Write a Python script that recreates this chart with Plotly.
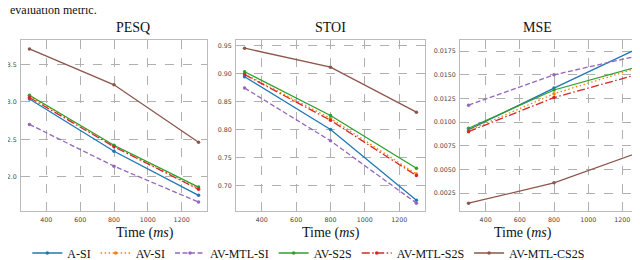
import plotly.graph_objects as go

times = [300, 800, 1300]
series_names = ["A-SI", "AV-SI", "AV-MTL-SI", "AV-S2S", "AV-MTL-S2S", "AV-MTL-CS2S"]
colors = ["#1f77b4", "#ff7f0e", "#9467bd", "#2ca02c", "#d62728", "#8c564b"]
dashes = ["solid", "1.5px,2.5px", "5px,2.5px", "solid", "8px,2.5px,1.5px,2.5px", "solid"]

pesq = {
    "A-SI": [3.04, 2.34, 1.75],
    "AV-SI": [3.08, 2.41, 1.84],
    "AV-MTL-SI": [2.70, 2.14, 1.66],
    "AV-S2S": [3.09, 2.42, 1.86],
    "AV-MTL-S2S": [3.06, 2.40, 1.83],
    "AV-MTL-CS2S": [3.71, 3.23, 2.46],
}
stoi = {
    "A-SI": [0.894, 0.800, 0.674],
    "AV-SI": [0.899, 0.820, 0.721],
    "AV-MTL-SI": [0.874, 0.780, 0.669],
    "AV-S2S": [0.903, 0.825, 0.731],
    "AV-MTL-S2S": [0.898, 0.8165, 0.718],
    "AV-MTL-CS2S": [0.945, 0.911, 0.831],
}
mse = {
    "A-SI": [0.0092, 0.0136, 0.01786],
    "AV-SI": [0.0091, 0.0130, 0.0158],
    "AV-MTL-SI": [0.0118, 0.0150, 0.01705],
    "AV-S2S": [0.00936, 0.0134, 0.0159],
    "AV-MTL-S2S": [0.0090, 0.0126, 0.0151],
    "AV-MTL-CS2S": [0.00144, 0.0036, 0.00683],
}

panels = [("PESQ", pesq), ("STOI", stoi), ("MSE", mse)]
W, H = 640, 260
x_px = [(13, 199), (228, 417), (452, 640)]
y_top, y_bot = 32, 203

fig = go.Figure()
for i, (title, data) in enumerate(panels):
    ax = "" if i == 0 else str(i + 1)
    for j, name in enumerate(series_names):
        fig.add_trace(go.Scatter(
            x=times, y=data[name], mode="lines+markers", name=name,
            line=dict(color=colors[j], dash=dashes[j], width=1.3),
            marker=dict(size=3.5, color=colors[j]),
            xaxis="x" + ax, yaxis="y" + ax,
            showlegend=(i == 0), legendgroup=name,
        ))

serif = "Liberation Serif"
sans = "DejaVu Sans"
axis_common = dict(showgrid=True, gridcolor="#b0b0b0", griddash="dash", gridwidth=1,
                   showline=True, linecolor="#bbbbbb", linewidth=1, mirror=True,
                   zeroline=False, ticks="outside", ticklen=2, tickcolor="rgba(0,0,0,0)",
                   tickfont=dict(family=sans, size=6.3, color="#444"),
                   automargin=False)

layout = dict(width=W, height=H, margin=dict(l=0, r=0, t=0, b=0, autoexpand=False),
              plot_bgcolor="white", paper_bgcolor="white",
              showlegend=True,
              legend=dict(orientation="h", x=0.47, xanchor="center",
                          yref="container", y=1 - 245 / H, yanchor="middle",
                          font=dict(family=serif, size=12, color="#111"),
                          itemwidth=30, tracegroupgap=0, bgcolor="rgba(0,0,0,0)"))
yranges = [[1.54, 3.83], [0.655, 0.9595], [0.00062, 0.01868]]
ydtick = [0.5, 0.05, 0.0025]
yfmt = [".1f", ".2f", ".4f"]
annotations = []
for i in range(3):
    ax = "" if i == 0 else str(i + 1)
    x0, x1 = x_px[i]
    layout["xaxis" + ax] = dict(axis_common, domain=[x0 / W, x1 / W], range=[250, 1350],
                                tick0=400, dtick=200, anchor="y" + ax)
    layout["yaxis" + ax] = dict(axis_common, domain=[1 - y_bot / H, 1 - y_top / H],
                                range=yranges[i], dtick=ydtick[i], tick0=0,
                                tickformat=yfmt[i], anchor="x" + ax)
    cx = (x0 + x1) / 2 / W
    annotations.append(dict(text=panels[i][0], x=cx, y=1 - 20 / H, xref="paper", yref="paper",
                            yanchor="middle", showarrow=False,
                            font=dict(family=serif, size=14, color="#111")))
    annotations.append(dict(text="Time (<i>ms</i>)", x=cx, y=1 - 225 / H, xref="paper", yref="paper",
                            yanchor="middle", showarrow=False,
                            font=dict(family=serif, size=14, color="#111")))
annotations.append(dict(text="evaluation metric.", x=0, y=1 - 2 / H, xref="paper", yref="paper",
                        xanchor="left", yanchor="middle", showarrow=False,
                        font=dict(family=serif, size=12, color="#111")))
layout["annotations"] = annotations
fig.update_layout(**layout)
fig.write_html("out.html")
